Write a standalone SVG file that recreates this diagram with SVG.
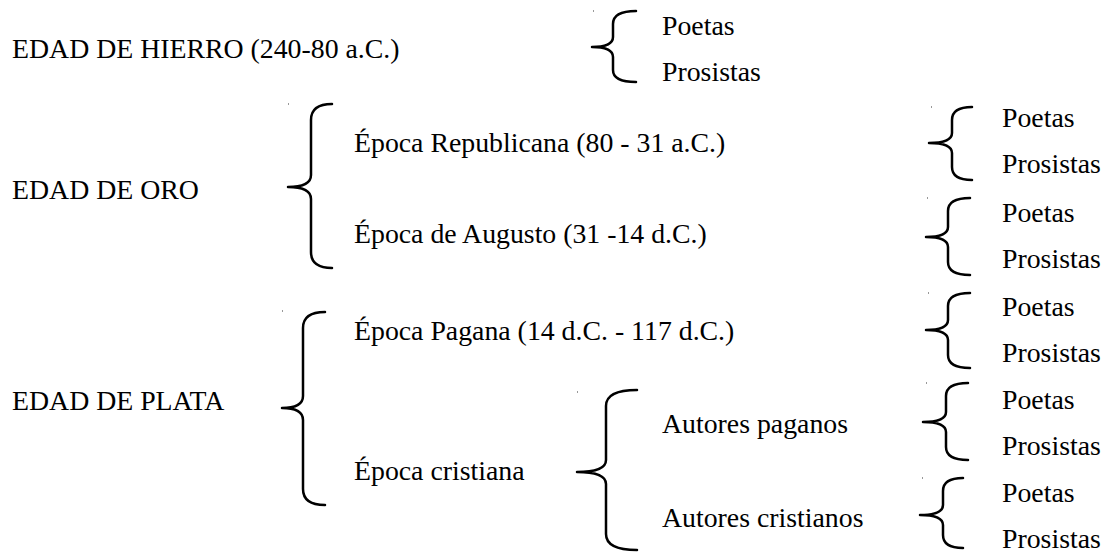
<svg xmlns="http://www.w3.org/2000/svg" width="1105" height="555" viewBox="0 0 1105 555">
<style>
text{font-family:"Liberation Serif","Times New Roman",serif;font-size:27.8px;fill:#000}
.br{fill:none;stroke:#000;stroke-width:2.5;stroke-linecap:round;stroke-linejoin:round}
.dot{fill:#999}
</style>
<rect width="1105" height="555" fill="#fff"/>
<g id="connectors">
<path class="br" d="M636,11 Q613,11 613,24 L613,37 Q613,47 592,47 Q613,47 613,57 L613,70 Q613,82 636,82"/>
<path class="br" d="M332,104 Q311,104 311,120 L311,175 Q311,187 288,187 Q311,187 311,199 L311,252 Q311,268 332,268"/>
<path class="br" d="M325,312 Q303,312 303,328 L303,396 Q303,408 282,408 Q303,408 303,420 L303,489 Q303,505 325,505"/>
<path class="br" d="M637,390 Q606,390 606,406 L606,460 Q606,472 577,472 Q606,472 606,484 L606,534 Q606,550 637,550"/>
<path class="br" d="M972,107 Q952,107 952,120 L952,133 Q952,143 929,143 Q952,143 952,153 L952,167 Q952,180 972,180"/>
<path class="br" d="M970,198 Q948,198 948,211 L948,227 Q948,237 926,237 Q948,237 948,247 L948,262 Q948,275 970,275"/>
<path class="br" d="M970,293 Q948,293 948,306 L948,320 Q948,330 926,330 Q948,330 948,340 L948,355 Q948,368 970,368"/>
<path class="br" d="M968,383 Q946,383 946,396 L946,412 Q946,422 923,422 Q946,422 946,432 L946,447 Q946,460 968,460"/>
<path class="br" d="M963,478 Q943,478 943,491 L943,505 Q943,515 920,515 Q943,515 943,525 L943,535 Q943,548 963,548"/>
<rect class="dot" x="593" y="10" width="1" height="2"/>
<rect class="dot" x="288" y="103" width="1" height="2"/>
<rect class="dot" x="282" y="310" width="1" height="2"/>
<rect class="dot" x="577" y="391" width="1" height="2"/>
<rect class="dot" x="931" y="106" width="1" height="2"/>
<rect class="dot" x="927" y="197" width="1" height="2"/>
<rect class="dot" x="928" y="292" width="1" height="2"/>
<rect class="dot" x="926" y="382" width="1" height="2"/>
<rect class="dot" x="922" y="477" width="1" height="2"/>
</g>
<g id="edad-hierro"><text x="12" y="58">EDAD DE HIERRO (240-80 a.C.)</text></g>
<g id="hierro-poetas"><text x="662" y="35">Poetas</text></g>
<g id="hierro-prosistas"><text x="662" y="81">Prosistas</text></g>
<g id="edad-oro"><text x="12" y="199">EDAD DE ORO</text></g>
<g id="epoca-republicana"><text x="354" y="152">Época Republicana (80 - 31 a.C.)</text></g>
<g id="epoca-augusto"><text x="354" y="243">Época de Augusto (31 -14 d.C.)</text></g>
<g id="edad-plata"><text x="12" y="410">EDAD DE PLATA</text></g>
<g id="epoca-pagana"><text x="354" y="340">Época Pagana (14 d.C. - 117 d.C.)</text></g>
<g id="epoca-cristiana"><text x="354" y="480">Época cristiana</text></g>
<g id="autores-paganos"><text x="662" y="433">Autores paganos</text></g>
<g id="autores-cristianos"><text x="662" y="527">Autores cristianos</text></g>
<g id="rep-poetas"><text x="1002" y="127">Poetas</text></g>
<g id="rep-prosistas"><text x="1002" y="173">Prosistas</text></g>
<g id="aug-poetas"><text x="1002" y="222">Poetas</text></g>
<g id="aug-prosistas"><text x="1002" y="268">Prosistas</text></g>
<g id="pag-poetas"><text x="1002" y="316">Poetas</text></g>
<g id="pag-prosistas"><text x="1002" y="362">Prosistas</text></g>
<g id="ap-poetas"><text x="1002" y="409">Poetas</text></g>
<g id="ap-prosistas"><text x="1002" y="455">Prosistas</text></g>
<g id="ac-poetas"><text x="1002" y="502">Poetas</text></g>
<g id="ac-prosistas"><text x="1002" y="548">Prosistas</text></g>
</svg>
